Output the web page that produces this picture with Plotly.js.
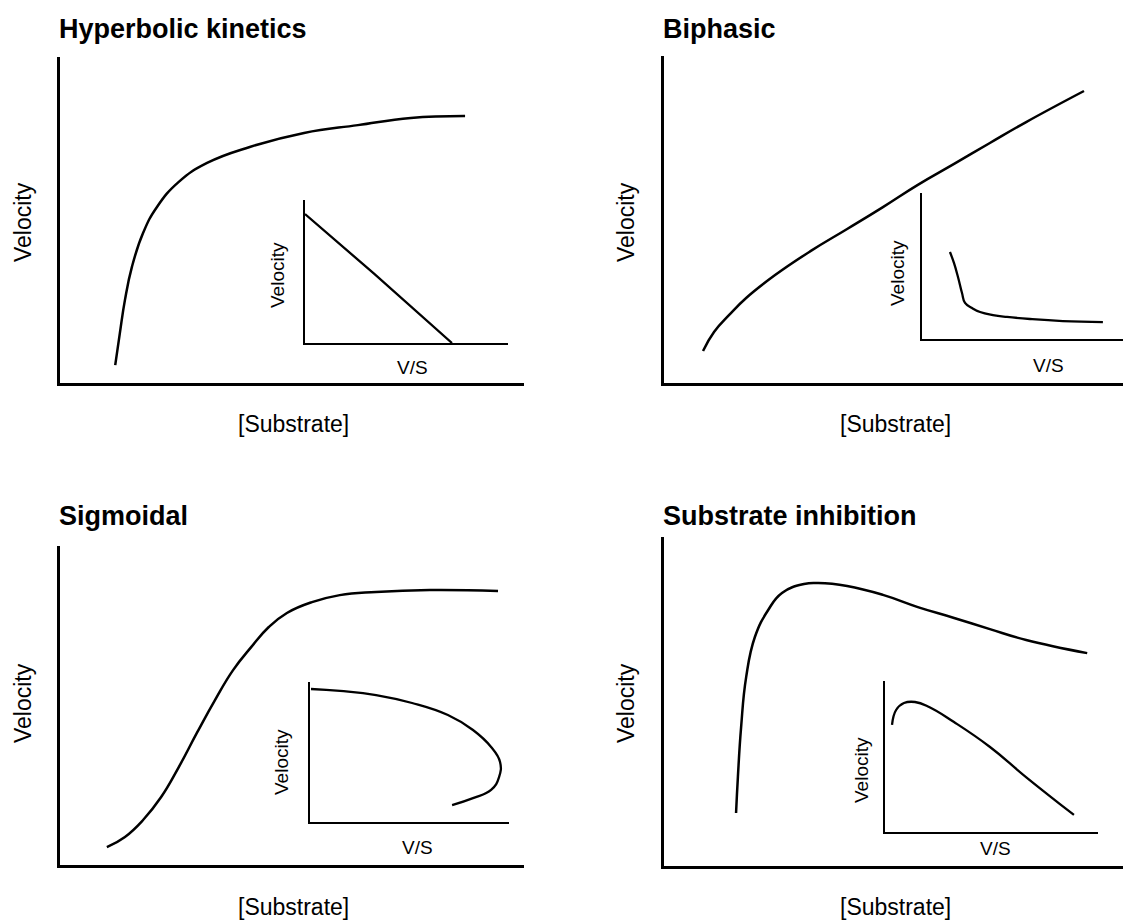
<!DOCTYPE html>
<html>
<head>
<meta charset="utf-8">
<script src="https://cdn.plot.ly/plotly-3.0.1.min.js"></script>
<style>html,body{margin:0;padding:0;background:#fff;}#chart{width:1123px;height:922px;}</style>
</head>
<body>
<div id="chart"></div>
<script>
// ---- Data (axes in arbitrary 0-100 units) ----
const panelTitles = ["Hyperbolic kinetics", "Biphasic", "Sigmoidal", "Substrate inhibition"];
const mainXLabel = "[Substrate]";
const mainYLabel = "Velocity";
const insetXLabel = "V/S";
const insetYLabel = "Velocity";

// Hyperbolic kinetics: main curve
const hypX = [11.9, 12.9, 14.0, 15.5, 17.9, 20.9, 25.6, 31.7, 40.9, 52.6, 64.2, 75.6, 87.3];
const hypY = [5.5, 15.3, 25.5, 35.6, 46.0, 54.0, 61.7, 67.5, 72.4, 76.7, 79.1, 81.3, 81.9];
// Hyperbolic inset (Eadie-Hofstee: straight line)
const hypInsetX = [0, 34, 72.4];
const hypInsetY = [90.2, 48.5, 0];

// Biphasic: main curve
const biX = [8.5, 10.9, 14.2, 17.9, 24.2, 32.0, 39.9, 47.7, 55.3, 63.2, 71.0, 78.9, 91.5];
const biY = [9.8, 15.6, 20.8, 26.0, 33.0, 40.4, 47.1, 53.8, 60.6, 67.0, 73.4, 79.8, 89.3];
// Biphasic inset
const biInsetX = [13.9, 15.9, 17.9, 19.9, 21.4, 24.9, 28.9, 35.3, 42.3, 53.7, 70.1, 90.0];
const biInsetY = [59.6, 52.1, 42.5, 31.5, 24.7, 21.2, 18.5, 16.4, 15.1, 13.7, 12.3, 11.6];

// Sigmoidal: main curve
const sigX = [10.1, 14.0, 17.9, 21.8, 25.6, 29.5, 33.4, 37.3, 41.2, 45.0, 48.9, 54.3, 60.3, 68.1, 79.7, 94.4];
const sigY = [5.6, 8.8, 14.1, 21.3, 30.7, 41.4, 51.7, 61.1, 68.3, 74.6, 79.0, 82.4, 84.6, 85.6, 86.2, 85.9];
// Sigmoidal inset
const sigInsetX = [0.5, 15.1, 33.2, 51.3, 69.3, 81.9, 91.0, 95.5, 95.0, 91.0, 81.9, 71.4];
const sigInsetY = [95.0, 93.6, 90.7, 85.0, 76.4, 65.7, 53.6, 42.9, 32.1, 22.9, 17.1, 12.1];

// Substrate inhibition: main curve
const inhX = [15.7, 16.1, 16.8, 17.9, 19.8, 22.7, 25.7, 30.5, 33.6, 39.9, 47.7, 55.3, 63.2, 71.0, 78.9, 92.2];
const inhY = [16.1, 27.1, 42.2, 57.4, 69.6, 77.8, 83.0, 85.7, 86.0, 85.1, 82.4, 78.7, 75.4, 72.0, 68.7, 64.7];
// Substrate inhibition inset
const inhInsetX = [3.3, 5.2, 8.9, 14.1, 20.7, 32.4, 49.3, 66.2, 88.7];
const inhInsetY = [70.9, 80.8, 85.4, 86.1, 82.8, 72.8, 56.3, 36.4, 11.3];

// ---- Layout helpers ----
const W = 1123, H = 922;
const FONT = "Liberation Sans, Arial, Helvetica, sans-serif";
const px = v => v / W;
const py = v => 1 - v / H;

// boxes in pixels: [left, right, top, bottom]
const boxes = [
  [60, 524, 57, 383],    // main 1
  [664, 1123, 56, 383],  // main 2
  [60, 524, 546, 865],   // main 3
  [664, 1123, 537, 866], // main 4
  [305, 508, 200, 343],  // inset 1
  [922, 1123, 193, 339], // inset 2
  [310, 509, 682, 822],  // inset 3
  [885, 1098, 681, 832]  // inset 4
];

const series = [
  [hypX, hypY], [biX, biY], [sigX, sigY], [inhX, inhY],
  [hypInsetX, hypInsetY], [biInsetX, biInsetY], [sigInsetX, sigInsetY], [inhInsetX, inhInsetY]
];

const layout = {
  width: W, height: H,
  margin: {l: 0, r: 0, t: 0, b: 0},
  paper_bgcolor: "#ffffff",
  plot_bgcolor: "rgba(0,0,0,0)",
  showlegend: false,
  font: {family: FONT, color: "#000"},
  annotations: []
};

const traces = [];
boxes.forEach((b, i) => {
  const n = i + 1;
  const xa = n === 1 ? "xaxis" : "xaxis" + n;
  const ya = n === 1 ? "yaxis" : "yaxis" + n;
  const xr = n === 1 ? "x" : "x" + n;
  const yr = n === 1 ? "y" : "y" + n;
  const inset = i >= 4;
  const lw = inset ? 2.3 : 2.6;
  layout[xa] = {
    domain: [px(b[0]), px(b[1])], anchor: yr, range: [0, 100],
    showline: true, linecolor: "#000", linewidth: lw,
    showgrid: false, zeroline: false, showticklabels: false, ticks: "", fixedrange: true
  };
  layout[ya] = {
    domain: [py(b[3]), py(b[2])], anchor: xr, range: [0, 100],
    showline: true, linecolor: "#000", linewidth: lw,
    showgrid: false, zeroline: false, showticklabels: false, ticks: "", fixedrange: true
  };
  traces.push({
    x: series[i][0], y: series[i][1], xaxis: xr, yaxis: yr,
    type: "scatter", mode: "lines", cliponaxis: false,
    line: {color: "#000", width: inset ? 2.3 : 2.5, shape: i === 4 ? "linear" : "spline", smoothing: 1.3},
    hoverinfo: "skip"
  });
});

// Titles
const titlePos = [[60, 29], [664, 29], [60, 516], [664, 516]];
panelTitles.forEach((t, i) => {
  layout.annotations.push({
    text: "<b>" + t + "</b>", xref: "paper", yref: "paper",
    x: px(titlePos[i][0] - 3), y: py(titlePos[i][1]), xanchor: "left", yanchor: "middle",
    showarrow: false, font: {size: 27, family: FONT, color: "#000"}
  });
});

// Main axis labels
const mainYLabPos = [[23, 222], [626, 222], [23, 703], [626, 703]];
const mainXLabPos = [[293, 424], [895, 424], [293, 907], [895, 907]];
for (let i = 0; i < 4; i++) {
  layout.annotations.push({
    text: mainYLabel, xref: "paper", yref: "paper",
    x: px(mainYLabPos[i][0]), y: py(mainYLabPos[i][1]), xanchor: "center", yanchor: "middle",
    textangle: -90, showarrow: false, font: {size: 23, family: FONT, color: "#000"}
  });
  layout.annotations.push({
    text: mainXLabel, xref: "paper", yref: "paper",
    x: px(mainXLabPos[i][0]), y: py(mainXLabPos[i][1]), xanchor: "center", yanchor: "middle",
    showarrow: false, font: {size: 23, family: FONT, color: "#000"}
  });
}

// Inset axis labels
const insetYLabPos = [[277, 275], [897, 273], [281, 762], [861, 770]];
const insetXLabPos = [[412, 367], [1048, 365], [417, 847], [995, 848]];
for (let i = 0; i < 4; i++) {
  layout.annotations.push({
    text: insetYLabel, xref: "paper", yref: "paper",
    x: px(insetYLabPos[i][0]), y: py(insetYLabPos[i][1]), xanchor: "center", yanchor: "middle",
    textangle: -90, showarrow: false, font: {size: 19, family: FONT, color: "#000"}
  });
  layout.annotations.push({
    text: insetXLabel, xref: "paper", yref: "paper",
    x: px(insetXLabPos[i][0]), y: py(insetXLabPos[i][1]), xanchor: "center", yanchor: "middle",
    showarrow: false, font: {size: 19, family: FONT, color: "#000"}
  });
}

Plotly.newPlot("chart", traces, layout, {staticPlot: true, displayModeBar: false});
</script>
</body>
</html>
